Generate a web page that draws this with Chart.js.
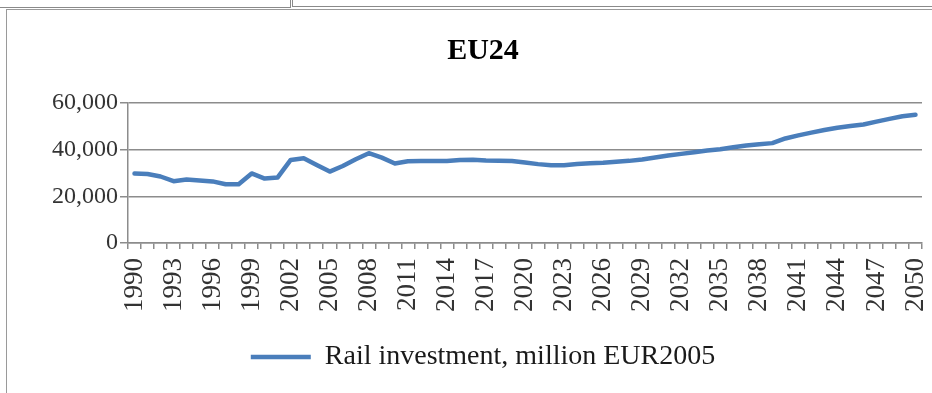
<!DOCTYPE html>
<html>
<head>
<meta charset="utf-8">
<script src="https://cdn.jsdelivr.net/npm/chart.js@4/dist/chart.umd.min.js"></script>
<style>
  html, body { margin: 0; padding: 0; background: #fff; }
  #wrap { position: relative; width: 932px; height: 393px; overflow: hidden; }
  canvas { position: absolute; left: 0; top: 0; }
  .ln { position: absolute; background: #8a8a8a; }
</style>
</head>
<body>
<div id="wrap">
  <canvas id="c" width="932" height="393"></canvas>
  <div class="ln" style="left:0;top:7px;width:291px;height:1px;"></div>
  <div class="ln" style="left:290px;top:0;width:1px;height:8px;"></div>
  <div class="ln" style="left:292px;top:0;width:1px;height:7px;"></div>
  <div class="ln" style="left:292px;top:6px;width:640px;height:1px;"></div>
  <div class="ln" style="left:6px;top:9px;width:926px;height:1px;background:#9a9a9a;"></div>
  <div class="ln" style="left:6px;top:9px;width:1px;height:384px;background:#9a9a9a;"></div>
</div>
<script>
const years = [];
for (let y = 1990; y <= 2050; y++) years.push(String(y));

const railInvestment = [
  29800, 29600, 28500, 26500, 27200, 26800, 26400, 25200, 25200, 29800,
  27600, 28100, 35600, 36300, 33400, 30600, 33000, 35900, 38500, 36600,
  34100, 35000, 35100, 35100, 35100, 35600, 35700, 35400, 35300, 35150,
  34500, 33800, 33300, 33300, 33850, 34200, 34400, 34800, 35200, 35800,
  36600, 37500, 38200, 38900, 39600, 40200, 41000, 41800, 42300, 42800,
  44800, 46100, 47300, 48400, 49400, 50100, 50800, 52000, 53200, 54300,
  55000
];

const yTicks = [0, 20000, 40000, 60000];
const seriesName = 'Rail investment, million EUR2005';
const chartTitle = 'EU24';

const serif = "'Liberation Serif', 'Times New Roman', serif";
const gridGray = '#8c8c8c';

new Chart(document.getElementById('c'), {
  type: 'line',
  data: {
    labels: years,
    datasets: [{
      label: seriesName,
      data: railInvestment,
      borderColor: '#4A7EBB',
      backgroundColor: '#4A7EBB',
      borderWidth: 4.5,
      pointRadius: 0,
      tension: 0,
      borderJoinStyle: 'round',
      borderCapStyle: 'round'
    }]
  },
  options: {
    responsive: false,
    animation: false,
    layout: { padding: { left: 44, right: 10, top: 0, bottom: 12 } },
    plugins: {
      tooltip: { enabled: false },
      title: {
        display: true,
        text: chartTitle,
        color: '#000',
        font: { family: serif, size: 30, weight: 'bold' },
        padding: { top: 33, bottom: 34 }
      },
      legend: {
        position: 'bottom',
        labels: {
          usePointStyle: true,
          pointStyle: 'line',
          pointStyleWidth: 60,
          color: '#1a1a1a',
          font: { family: serif, size: 28 },
          padding: 10
        }
      }
    },
    scales: {
      x: {
        type: 'category',
        offset: true,
        afterFit: (s) => { s.height = 90; s.paddingLeft = 0; s.paddingRight = 0; },
        grid: {
          offset: true,
          drawOnChartArea: false,
          drawTicks: true,
          tickLength: 6,
          color: gridGray,
          lineWidth: 1.5
        },
        border: { display: true, color: gridGray, width: 1.5 },
        ticks: {
          autoSkip: false,
          minRotation: 90,
          maxRotation: 90,
          padding: 9,
          color: '#333',
          font: { family: serif, size: 27 },
          callback: function (v, i) { return i % 3 === 0 ? this.getLabelForValue(v) : ''; }
        }
      },
      y: {
        min: 0,
        max: 60000,
        afterFit: (s) => { s.width = 84; s.paddingTop = 0; s.paddingBottom = 0; },
        afterBuildTicks: (s) => { s.ticks = yTicks.map(v => ({ value: v })); },
        grid: {
          color: gridGray,
          lineWidth: 1.5,
          tickLength: 8,
          drawTicks: true
        },
        border: { display: true, color: gridGray, width: 1.5 },
        ticks: {
          padding: 2,
          color: '#333',
          font: { family: serif, size: 24 },
          callback: (v) => Number(v).toLocaleString('en-US')
        }
      }
    }
  }
});
</script>
</body>
</html>
